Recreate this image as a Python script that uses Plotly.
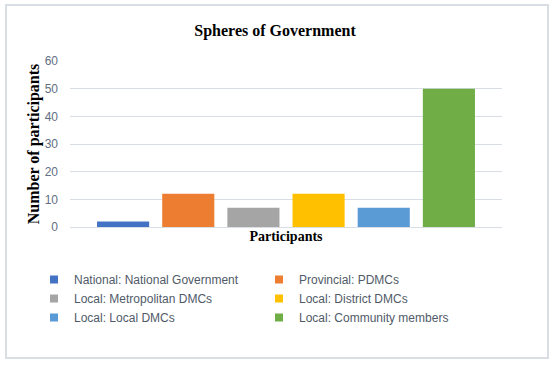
import plotly.graph_objects as go

category = ["Participants"]
series_names = [
    "National: National Government",
    "Provincial: PDMCs",
    "Local: Metropolitan DMCs",
    "Local: District DMCs",
    "Local: Local DMCs",
    "Local: Community members",
]
series_values = [2, 12, 7, 12, 7, 50]
series_colors = ["#4472C4", "#ED7D31", "#A5A5A5", "#FFC000", "#5B9BD5", "#70AD47"]
y_ticks = [0, 10, 20, 30, 40, 50, 60]

W, H = 550, 368
L, R, T, B = 70, 48, 61, 141
pw, ph = W - L - R, H - T - B

def px(x):
    return (x - L) / pw

def py(y):
    return (H - B - y) / ph

fig = go.Figure()
for name, val, col in zip(series_names, series_values, series_colors):
    fig.add_trace(go.Bar(x=category, y=[val], name=name, showlegend=False,
                         marker=dict(color=col, line=dict(width=0))))
# legend entries with small square markers
for name, col in zip(series_names, series_colors):
    fig.add_trace(go.Scatter(x=[None], y=[None], mode="markers", name=name,
                             marker=dict(symbol="square", size=8, color=col)))

serif = "Liberation Serif"
fig.update_layout(
    width=W, height=H,
    margin=dict(l=L, r=R, t=T, b=B, autoexpand=False),
    paper_bgcolor="white", plot_bgcolor="white",
    barmode="group", bargap=0.095, bargroupgap=0.2,
    title=dict(text="<b>Spheres of Government</b>", x=0.5, xanchor="center",
               y=1 - 30 / H, yanchor="middle", yref="container",
               font=dict(family=serif, size=16, color="#000000")),
    xaxis=dict(showticklabels=False, showgrid=False, zeroline=False, showline=False,
               title=dict(text="<b>Participants</b>", standoff=4,
                          font=dict(family=serif, size=14, color="#000000"))),
    yaxis=dict(range=[0, 60], tickvals=y_ticks, showgrid=True, gridcolor="#D9DEE5", gridwidth=1,
               zeroline=True, zerolinecolor="#D9DEE5", zerolinewidth=1,
               tickfont=dict(family="Liberation Sans", size=12, color="#5F6E82"),
               ticks="", ticklabelstandoff=11,
               title=dict(text="<b>Number of participants</b>", standoff=1,
                          font=dict(family=serif, size=16, color="#000000"))),
    legend=dict(orientation="h", x=px(34), y=py(265), xanchor="left", yanchor="top",
                entrywidth=180, entrywidthmode="pixels", traceorder="normal",
                font=dict(family="Liberation Sans", size=12, color="#505A68"),
                itemwidth=30, tracegroupgap=0, bgcolor="rgba(0,0,0,0)"),
    shapes=[dict(type="rect", xref="paper", yref="paper",
                 x0=px(6), x1=px(548), y0=py(358), y1=py(5),
                 line=dict(color="#D9DEE5", width=2), fillcolor="rgba(0,0,0,0)", layer="below")],
    showlegend=True,
)

fig.write_html("out.html", config={"displayModeBar": False},
               post_script="document.body.style.margin='0';")
